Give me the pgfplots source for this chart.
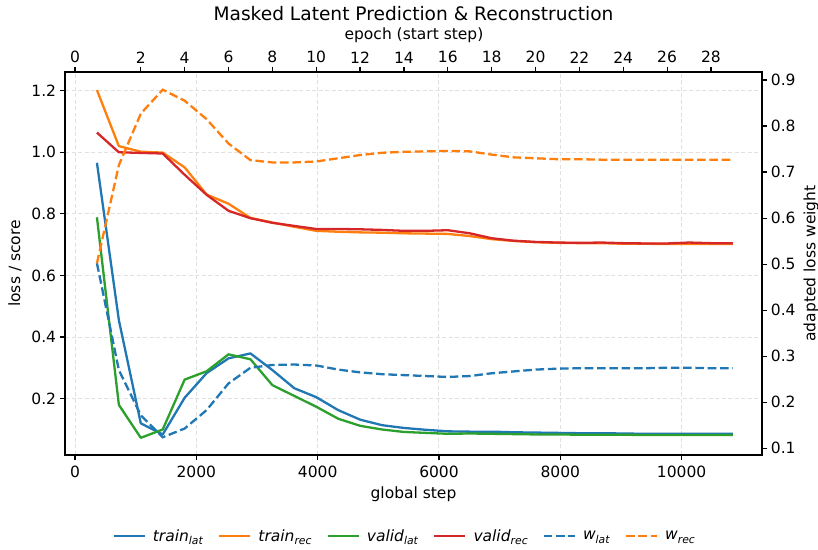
\documentclass[border=0pt]{standalone}
\usepackage{pgfplots}
\usepackage{pgfplotstable}
\pgfplotsset{compat=1.18}
\usepackage{fontspec}
\setmainfont{DejaVu Sans}
\definecolor{C0}{HTML}{1F77B4}
\definecolor{C1}{HTML}{FF7F0E}
\definecolor{C2}{HTML}{2CA02C}
\definecolor{C3}{HTML}{D62728}
\newcommand{\fs}{\fontsize{15.5bp}{18bp}\selectfont}
\newcommand{\lab}[2]{\textit{#1}\raisebox{-0.22em}{\fontsize{10.8bp}{12bp}\selectfont\textit{#2}}}

\pgfplotstableread{
k  tl    tr    vl    vr    wl    wr
1  0.966 1.202 0.789 1.064 0.502 0.502
2  0.455 1.020 0.180 1.000 0.270 0.715
3  0.120 1.002 0.073 0.998 0.172 0.827
4  0.084 0.999 0.100 0.996 0.124 0.879
5  0.203 0.951 0.262 0.927 0.143 0.855
6  0.283 0.863 0.289 0.862 0.183 0.815
7  0.331 0.833 0.344 0.810 0.241 0.762
8  0.347 0.787 0.328 0.786 0.275 0.726
9  0.293 0.772 0.244 0.771 0.281 0.721
10 0.234 0.758 0.209 0.761 0.282 0.721
11 0.205 0.745 0.174 0.751 0.280 0.723
12 0.163 0.742 0.135 0.751 0.271 0.730
13 0.132 0.740 0.112 0.750 0.265 0.737
14 0.114 0.739 0.100 0.748 0.261 0.742
15 0.105 0.737 0.092 0.745 0.259 0.744
16 0.099 0.736 0.089 0.745 0.257 0.745
17 0.094 0.735 0.086 0.747 0.255 0.746
18 0.093 0.728 0.087 0.737 0.257 0.745
19 0.093 0.718 0.086 0.721 0.263 0.738
20 0.091 0.712 0.085 0.713 0.267 0.732
21 0.090 0.708 0.084 0.709 0.271 0.730
22 0.089 0.706 0.084 0.707 0.273 0.728
23 0.088 0.705 0.083 0.706 0.274 0.728
24 0.088 0.705 0.083 0.707 0.274 0.727
25 0.087 0.703 0.083 0.705 0.274 0.727
26 0.086 0.703 0.082 0.704 0.274 0.727
27 0.086 0.702 0.082 0.704 0.275 0.727
28 0.086 0.702 0.082 0.707 0.275 0.727
29 0.086 0.702 0.082 0.705 0.274 0.727
30 0.086 0.702 0.082 0.705 0.274 0.727
}\data

\pgfplotsset{
  common/.style={
    at={(65bp,95bp)}, anchor=south west, scale only axis,
    width=697bp, height=383bp, xmin=-165, xmax=11325,
    tick align=outside, major tick length=5.4bp,
    every tick label/.append style={font=\fs},
    /pgf/number format/assume math mode=true,
    axis line style={line width=1.2bp},
    every tick/.style={black, line width=1.2bp},
    scaled x ticks=false,
  },
  ln/.style={line width=2.3bp, line join=round},
  dsh/.style={line width=2.3bp, dash pattern=on 8.6bp off 3.7bp},
}

\begin{document}
\begin{tikzpicture}
\useasboundingbox (0,0) rectangle (818bp,550bp);
\begin{axis}[common,
  ymin=0.0172, ymax=1.2607,
  xtick={0,2000,4000,6000,8000,10000},
  ytick={0.2,0.4,0.6,0.8,1.0,1.2},
  xtick pos=left, ytick pos=left,
  grid=major, major grid style={black!12, dash pattern=on 4bp off 2.5bp, line width=1bp},
  xticklabel style={/pgf/number format/1000 sep={}, yshift=-2bp},
  yticklabel style={/pgf/number format/.cd, fixed, fixed zerofill, precision=1},
]
\addplot[C0, ln] table[x expr=\thisrow{k}*361.5, y=tl]{\data};
\addplot[C1, ln] table[x expr=\thisrow{k}*361.5, y=tr]{\data};
\addplot[C2, ln] table[x expr=\thisrow{k}*361.5, y=vl]{\data};
\addplot[C3, ln] table[x expr=\thisrow{k}*361.5, y=vr]{\data};
\end{axis}
\begin{axis}[common,
  ymin=0.0855, ymax=0.9174,
  axis y line*=right, axis x line=none,
  ytick={0.1,0.2,0.3,0.4,0.5,0.6,0.7,0.8,0.9},
  yticklabel style={/pgf/number format/.cd, fixed, fixed zerofill, precision=1},
  legend columns=6,
  legend image code/.code={\draw[#1] (0bp,0bp) -- (31bp,0bp);},
  legend style={at={(0.486,-0.212)}, anchor=center, draw=none, fill=none,
    font=\fs, inner sep=0pt,
    nodes={inner sep=0pt},
    /tikz/every odd column/.append style={column sep=7bp},
    /tikz/every even column/.append style={column sep=15bp}},
]
\addlegendimage{C0, ln}\addlegendentry{\lab{train}{lat}}
\addlegendimage{C1, ln}\addlegendentry{\lab{train}{rec}}
\addlegendimage{C2, ln}\addlegendentry{\lab{valid}{lat}}
\addlegendimage{C3, ln}\addlegendentry{\lab{valid}{rec}}
\addplot[C0, dsh] table[x expr=\thisrow{k}*361.5, y=wl]{\data};
\addlegendentry{\lab{w}{lat}}
\addplot[C1, dsh] table[x expr=\thisrow{k}*361.5, y=wr]{\data};
\addlegendentry{\lab{w}{rec}}
\end{axis}
\begin{axis}[common,
  ymin=0, ymax=1,
  axis x line*=top, axis y line=none,
  xtick={0,1084.5,1807.5,2530.5,3253.5,3976.5,4699.5,5422.5,6145.5,6868.5,7591.5,8314.5,9037.5,9760.5,10483.5},
  xticklabels={0,2,4,6,8,10,12,14,16,18,20,22,24,26,28},
]
\addplot[draw=none] coordinates {(0,0.5)};
\end{axis}
\node[font=\fontsize{18.6bp}{22bp}\selectfont] at (413.5bp,536bp) {Masked Latent Prediction \& Reconstruction};
\node[font=\fs] at (414bp,515bp) {epoch (start step)};
\node[font=\fs] at (413.5bp,56bp) {global step};
\node[font=\fs, rotate=90] at (15bp,286.5bp) {loss / score};
\node[font=\fs, rotate=90] at (811bp,286.5bp) {adapted loss weight};
\end{tikzpicture}
\end{document}
